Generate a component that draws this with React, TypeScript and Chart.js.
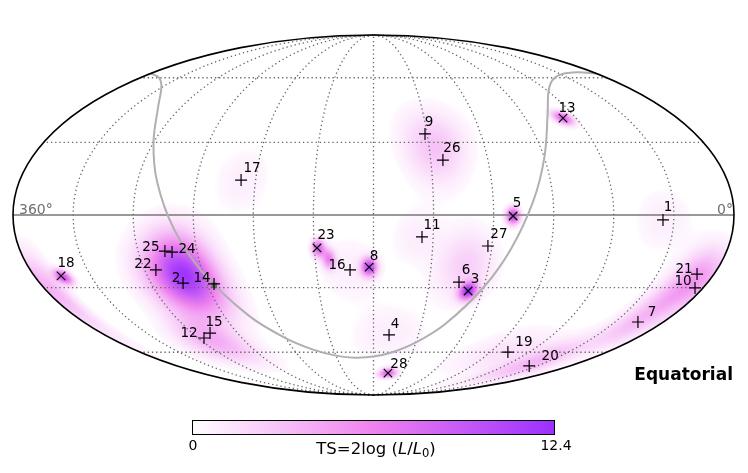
import React, { useEffect, useRef } from "react";
import { Chart, registerables } from "chart.js";

Chart.register(...registerables);

// Catalogue of sources (equatorial degrees)
const sourceIds = [1,2,3,4,5,6,7,8,9,10,11,12,13,14,15,16,17,18,19,20,21,22,23,24,25,26,27,28];
const sourceRa = [35.4,282.7,127.9,169.6,110.3,134,15.8,182.3,151.2,4.4,155.6,295.9,67.7,266.2,288.1,192.3,247.4,345.8,76.5,37.4,9,294.1,208.7,282.8,286.3,143.6,122,164.9];
const sourceDec = [-2,-28,-31.4,-51.3,-0.4,-27.6,-45.2,-21.3,33.6,-30.1,-8.9,-52.8,40.6,-28.4,-50.4,-22.5,14.2,-25,-59.9,-67.5,-24.2,-22.5,-13.4,-15.1,-14.7,22.5,-12.6,-71.8];
const crossedIds = [3,5,8,13,18,23,28];

// Galactic centre and galactic plane
const centreRa = [266.4];
const centreDec = [-29];
const planeRa = [0,12.9,30,45,60,75,90,100,110,120,135,150,165,180,195,210,225,240,255,270,280,290,300,315,330,345,360];
const planeDec = [62.3,62.9,61.8,58.8,53,42.4,23.5,5.6,-13.6,-29.9,-46.1,-55,-59.9,-62.3,-62.9,-61.8,-58.8,-53,-42.4,-23.5,-5.6,13.6,29.9,46.1,55,59.9,62.3];

// TS map components: centre, width in degrees, amplitude
const blobRa = [279,285,292,345,354,8,17,40,76,35,247,147,67.7,110.3,208,203,182.3,192,127.9,132,158,170,165];
const blobDec = [-25,-24,-54,-25.5,-35,-27,-45,-66,-60,-2,14,28,40.6,-0.4,-13.5,-18,-21.3,-22.5,-31.4,-20.5,-9,-51,-71.8];
const blobSigmaRa = [10.5,12,9,2.6,3.5,8,7,6,12,10,9.5,10,2.8,2.3,2.2,2.2,2.6,10,2.8,9.5,8.5,11,1.9];
const blobSigmaDec = [11,11,8,2.1,12,9,10,8,8,9,9.5,10.5,2.1,2.3,2.4,2.8,2.6,9.5,2.6,10,8,9,2];
const blobTs = [8.5,3.9,4,9,2,5,3,3,1.5,0.85,0.85,3,8,10,8,6,10,0.85,11,2.4,0.9,0.9,8];

const tsMax = 12.4;
const raTicks = [30,60,90,120,150,180,210,240,270,300,330];
const decTicks = [-60,-30,30,60];

// Layout and styling
const W = 748, H = 473;
const FONT = '"DejaVu Sans"';
const labelOffsets: number[][] = [[5,-12],[-7,-5],[7,-11],[6,-10],[4,-12],[7,-12],[14,-10],[5,-11],[4,-11],[-12,-6],[10,-11],[-15,-4],[4,-10],[-12,-5],[4,-11],[-13,-4],[11,-12],[5,-12],[16,-10],[21,-9],[-13,-5],[-13,-5],[9,-12],[15,-3],[-14,-4],[9,-12],[11,-11],[11,-9]];

const SQRT2 = Math.SQRT2;
const D2R = Math.PI / 180;

function project(ra: number, dec: number) {
  const phi = dec * D2R;
  let t = phi;
  if (Math.abs(dec) >= 90) t = Math.sign(dec) * Math.PI / 2;
  else {
    const target = Math.PI * Math.sin(phi);
    for (let i = 0; i < 60; i++) {
      const d = (2 * t + Math.sin(2 * t) - target) / (2 + 2 * Math.cos(2 * t) + 1e-9);
      t -= d;
      if (Math.abs(d) < 1e-7) break;
    }
  }
  return { x: (2 * SQRT2 / Math.PI) * (180 - ra) * D2R * Math.cos(t), y: SQRT2 * Math.sin(t) };
}

function unproject(x: number, y: number) {
  const s = y / SQRT2;
  if (Math.abs(s) >= 1) return null;
  const t = Math.asin(s);
  const c = Math.cos(t);
  const lon = (Math.PI * x) / (2 * SQRT2 * c);
  if (Math.abs(lon) > Math.PI) return null;
  const dec = Math.asin((2 * t + Math.sin(2 * t)) / Math.PI) / D2R;
  return { ra: 180 - lon / D2R, dec };
}

const WHITE = [255, 255, 255], VIOLET = [238, 130, 238], PURPLE = [155, 48, 255];
function cmap(t: number) {
  const u = Math.min(1, Math.max(0, t));
  const [a, b, f] = u < 0.5 ? [WHITE, VIOLET, u / 0.5] : [VIOLET, PURPLE, (u - 0.5) / 0.5];
  return [a[0] + (b[0] - a[0]) * (f as number), a[1] + (b[1] - a[1]) * (f as number), a[2] + (b[2] - a[2]) * (f as number)];
}

function tsAt(ra: number, dec: number) {
  let v = 0;
  const cd = Math.cos(dec * D2R);
  for (let i = 0; i < blobRa.length; i++) {
    let dr = ra - blobRa[i];
    if (dr > 180) dr -= 360;
    if (dr < -180) dr += 360;
    const dx = (dr * cd) / blobSigmaRa[i];
    const dy = (dec - blobDec[i]) / blobSigmaDec[i];
    const r2 = dx * dx + dy * dy;
    if (r2 < 30) v += blobTs[i] * Math.exp(-0.5 * r2);
  }
  return v;
}

const heatmapPlugin = {
  id: "tsHeatmap",
  beforeDatasetsDraw(chart: any) {
    const { ctx, chartArea: a, scales } = chart;
    const w = Math.ceil(a.right - a.left), h = Math.ceil(a.bottom - a.top);
    const off = document.createElement("canvas");
    off.width = w; off.height = h;
    const octx = off.getContext("2d")!;
    const img = octx.createImageData(w, h);
    const cut = 0.3;
    for (let j = 0; j < h; j++) {
      for (let i = 0; i < w; i++) {
        const sky = unproject(scales.x.getValueForPixel(a.left + i + 0.5), scales.y.getValueForPixel(a.top + j + 0.5));
        if (!sky) continue;
        const v = tsAt(sky.ra, sky.dec);
        if (v < cut) continue;
        const c = cmap(v / tsMax);
        const k = (j * w + i) * 4;
        img.data[k] = c[0]; img.data[k + 1] = c[1]; img.data[k + 2] = c[2];
        img.data[k + 3] = Math.min(255, 255 * (v - cut) / 0.12);
      }
    }
    octx.putImageData(img, 0, 0);
    ctx.drawImage(off, a.left, a.top);
  },
};

const decorPlugin = {
  id: "decor",
  afterDatasetsDraw(chart: any) {
    const { ctx, chartArea: a } = chart;
    ctx.save();
    // Map outline
    ctx.strokeStyle = "#000";
    ctx.lineWidth = 1.6;
    ctx.beginPath();
    ctx.ellipse((a.left + a.right) / 2, (a.top + a.bottom) / 2, (a.right - a.left) / 2, (a.bottom - a.top) / 2, 0, 0, Math.PI * 2);
    ctx.stroke();

    // Source labels
    const meta = chart.getDatasetMeta(chart.data.datasets.findIndex((d: any) => d.label === "sources"));
    ctx.fillStyle = "#000";
    ctx.font = `13.5px ${FONT}`;
    ctx.textAlign = "center";
    ctx.textBaseline = "middle";
    sourceIds.forEach((id, i) => {
      const p = meta.data[i];
      ctx.fillText(String(id), p.x + labelOffsets[i][0], p.y + labelOffsets[i][1]);
    });

    // Longitude end labels
    ctx.fillStyle = "#707070";
    ctx.font = `14px ${FONT}`;
    ctx.textAlign = "left";
    ctx.fillText("360°", a.left + 6, 210);
    ctx.textAlign = "right";
    ctx.fillText("0°", a.right - 1, 210);

    // Frame label
    ctx.fillStyle = "#000";
    ctx.font = `bold 17px ${FONT}`;
    ctx.textAlign = "right";
    ctx.textBaseline = "alphabetic";
    ctx.fillText("Equatorial", 733, 380);

    // Colour bar
    const bx = 192, by = 420, bw = 363, bh = 15;
    const g = ctx.createLinearGradient(bx, 0, bx + bw, 0);
    g.addColorStop(0, "rgb(255,255,255)");
    g.addColorStop(0.5, "rgb(238,130,238)");
    g.addColorStop(1, "rgb(155,48,255)");
    ctx.fillStyle = g;
    ctx.fillRect(bx, by, bw, bh);
    ctx.strokeStyle = "#000";
    ctx.lineWidth = 1;
    ctx.strokeRect(bx + 0.5, by + 0.5, bw - 1, bh - 1);

    ctx.fillStyle = "#000";
    ctx.font = `14px ${FONT}`;
    ctx.textAlign = "center";
    ctx.textBaseline = "middle";
    ctx.fillText("0", bx + 1, 446);
    ctx.fillText(String(tsMax), bx + bw + 1, 446);

    // Colour bar title with italic parts and a subscript
    const size = 16.5;
    const parts: [string, string, number][] = [
      ["TS=2log (", "", 0], ["L", "italic ", 0], ["/", "", 0], ["L", "italic ", 0], ["0", "sub", 3], [")", "", 0],
    ];
    const fontOf = (s: string) => (s === "sub" ? `${size * 0.7}px ${FONT}` : `${s}${size}px ${FONT}`);
    let total = 0;
    parts.forEach(([t, s]) => { ctx.font = fontOf(s); total += ctx.measureText(t).width; });
    let x = 376 - total / 2;
    ctx.textAlign = "left";
    ctx.textBaseline = "alphabetic";
    parts.forEach(([t, s, dy]) => {
      ctx.font = fontOf(s);
      ctx.fillText(t, x, 454 + dy);
      x += ctx.measureText(t).width;
    });
    ctx.restore();
  },
};

function lineOf(ras: number[], decs: number[]) {
  return ras.map((r, i) => project(r, decs[i]));
}

function graticule() {
  const sets: any[] = [];
  const decs: number[] = [];
  for (let d = -90; d <= 90; d += 3) decs.push(d);
  const ras: number[] = [];
  for (let r = 0; r <= 360; r += 10) ras.push(r);
  const dotted = { showLine: true, pointRadius: 0, borderColor: "#666", borderWidth: 1.3, borderDash: [1.3, 2.9], tension: 0, order: 5, clip: false };
  raTicks.forEach((r) => sets.push({ ...dotted, label: `ra${r}`, data: lineOf(decs.map(() => r), decs) }));
  decTicks.forEach((d) => sets.push({ ...dotted, label: `dec${d}`, data: lineOf(ras, ras.map(() => d)) }));
  return sets;
}

export default function App() {
  const ref = useRef<HTMLCanvasElement>(null);
  useEffect(() => {
    document.body.style.margin = "0";
    const chart = new Chart(ref.current!, {
      type: "scatter",
      data: {
        datasets: [
          {
            label: "sources",
            data: sourceIds.map((_, i) => project(sourceRa[i], sourceDec[i])),
            pointStyle: sourceIds.map((id) => (crossedIds.includes(id) ? "crossRot" : "cross")),
            pointRadius: 6,
            borderColor: "#000",
            pointBorderWidth: 1.2,
            order: 0,
            clip: false,
          },
          {
            label: "galactic centre",
            data: lineOf(centreRa, centreDec),
            pointStyle: "rect",
            pointRadius: 4,
            pointBackgroundColor: "rgba(70,90,70,0.75)",
            pointBorderWidth: 0,
            order: 1,
          },
          {
            label: "galactic plane",
            data: lineOf(planeRa, planeDec),
            showLine: true,
            pointRadius: 0,
            borderColor: "#b0b0b0",
            borderWidth: 2,
            tension: 0.35,
            order: 2,
            clip: false,
          },
          {
            label: "equator",
            data: lineOf([0, 360], [0, 0]),
            showLine: true,
            pointRadius: 0,
            borderColor: "#777",
            borderWidth: 1.6,
            order: 3,
          },
          ...graticule(),
        ] as any,
      },
      options: {
        animation: false,
        responsive: false,
        layout: { padding: { left: 13, right: 14, top: 35, bottom: 78 } },
        plugins: { legend: { display: false }, tooltip: { enabled: false }, title: { display: false } },
        scales: {
          x: { type: "linear", min: -2 * SQRT2, max: 2 * SQRT2, display: false },
          y: { type: "linear", min: -SQRT2, max: SQRT2, display: false },
        },
      },
      plugins: [heatmapPlugin, decorPlugin],
    } as any);
    return () => chart.destroy();
  }, []);
  return <canvas ref={ref} width={W} height={H} style={{ display: "block", width: W, height: H }} />;
}
